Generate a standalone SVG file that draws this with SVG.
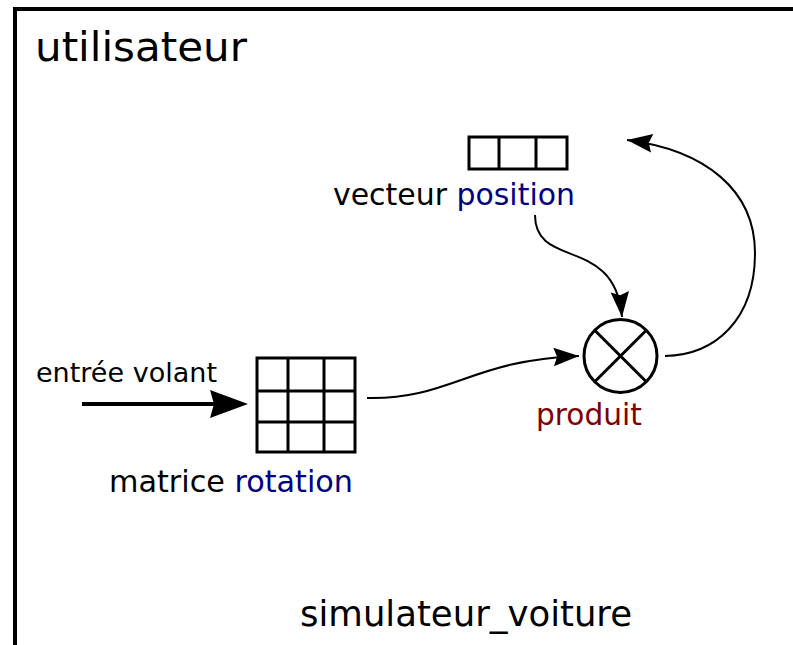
<svg xmlns="http://www.w3.org/2000/svg" width="793" height="645" viewBox="0 0 793 645">
<style>
text{font-family:"DejaVu Sans","Liberation Sans",sans-serif;fill:#000}
.blue{fill:#000080}
.red{fill:#800000}
.box{fill:#fff;stroke:#000;stroke-width:3}
.grid{stroke:#000;stroke-width:3;fill:none}
.conn{fill:none;stroke:#000;stroke-width:2}
</style>
<defs>
<marker id="ah" markerUnits="userSpaceOnUse" markerWidth="30" markerHeight="30" viewBox="-24 -12 26 24" refX="0" refY="0" orient="auto">
<path d="M0,0 L-22,-8 L-19,0 L-22,8 Z" fill="#000"/>
</marker>
</defs>
<rect width="793" height="645" fill="#fff"/>
<g id="frame">
<path d="M15,645 V9 H793" fill="none" stroke="#000" stroke-width="4"/>
<text x="35" y="61" font-size="41" textLength="212" lengthAdjust="spacingAndGlyphs">utilisateur</text>
<text x="300" y="626" font-size="35" textLength="332" lengthAdjust="spacingAndGlyphs">simulateur_voiture</text>
</g>
<g id="vecteur">
<rect class="box" x="469" y="137" width="98" height="32"/>
<path class="grid" d="M499,137 V169 M536,137 V169"/>
<text x="333" y="205" font-size="30" textLength="242" lengthAdjust="spacingAndGlyphs">vecteur <tspan class="blue">position</tspan></text>
</g>
<g id="matrice">
<rect class="box" x="257" y="358" width="98" height="94"/>
<path class="grid" d="M288,358 V452 M324,358 V452 M257,391 H355 M257,422 H355"/>
<text x="109" y="492" font-size="30" textLength="244" lengthAdjust="spacingAndGlyphs">matrice <tspan class="blue">rotation</tspan></text>
</g>
<g id="produit">
<circle cx="620.5" cy="356" r="36.5" fill="#fff" stroke="#000" stroke-width="3"/>
<path d="M594.7,330.2 L646.3,381.8 M646.3,330.2 L594.7,381.8" stroke="#000" stroke-width="3"/>
<text x="536" y="425" font-size="29.5" class="red" textLength="106" lengthAdjust="spacingAndGlyphs">produit</text>
</g>
<g id="entree">
<text x="36" y="382" font-size="27" textLength="181" lengthAdjust="spacingAndGlyphs">entrée volant</text>
</g>
<g id="connectors">
<path d="M82,404 H215" fill="none" stroke="#000" stroke-width="4"/>
<path d="M248,404 L210,390 L214,404 L210,418 Z" fill="#000"/>
<path class="conn" marker-end="url(#ah)" d="M367,398 C450,400 470,360 579,356"/>
<path class="conn" marker-end="url(#ah)" d="M535,215 C535,270 615,235 622,317"/>
<path class="conn" marker-end="url(#ah)" d="M665,356 C715,355 755,320 755,253 C755,190 705,150 627,140"/>
</g>
</svg>
